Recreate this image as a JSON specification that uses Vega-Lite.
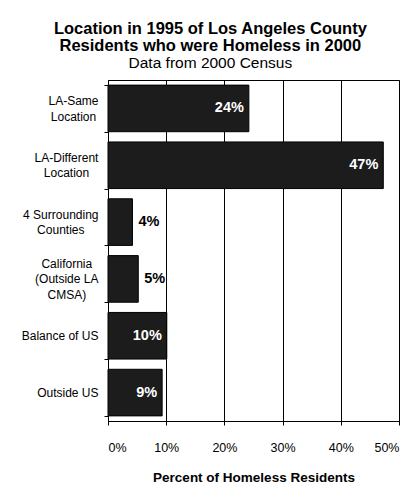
{
  "$schema": "https://vega.github.io/schema/vega-lite/v6.json",
  "width": 291,
  "height": 341,
  "padding": {"left": 21, "top": 21, "right": 5, "bottom": 2},
  "autosize": {"type": "pad"},
  "background": "white",
  "title": {
    "text": ["Location in 1995 of Los Angeles County", "Residents who were Homeless in 2000"],
    "subtitle": "Data from 2000 Census",
    "font": "Liberation Sans",
    "fontSize": 16.5,
    "fontWeight": "bold",
    "lineHeight": 17,
    "subtitleFont": "Liberation Sans",
    "subtitleFontSize": 15.5,
    "subtitleColor": "black",
    "subtitlePadding": 1,
    "color": "black",
    "anchor": "middle",
    "frame": "bounds",
    "offset": 3
  },
  "config": {
    "view": {"stroke": "black", "strokeWidth": 1},
    "font": "Liberation Sans"
  },
  "data": {
    "values": [
      {"location": "LA-Same|Location", "pct": 24.2, "label": "24%", "inside": true},
      {"location": "LA-Different|Location", "pct": 47.3, "label": "47%", "inside": true},
      {"location": "4 Surrounding|Counties", "pct": 4.2, "label": "4%", "inside": false},
      {"location": "California|(Outside LA|CMSA)", "pct": 5.2, "label": "5%", "inside": false},
      {"location": "Balance of US", "pct": 10.1, "label": "10%", "inside": true},
      {"location": "Outside US", "pct": 9.3, "label": "9%", "inside": true}
    ]
  },
  "encoding": {
    "y": {
      "field": "location",
      "type": "nominal",
      "sort": null,
      "scale": {"paddingInner": 0.18, "paddingOuter": 0.09},
      "axis": {
        "title": null,
        "labelExpr": "split(datum.label, '|')",
        "labelFontSize": 12,
        "labelColor": "black",
        "labelAlign": "center",
        "labelPadding": {"expr": "datum.value == 'LA-Same|Location' ? 31 : datum.value == 'LA-Different|Location' ? 38 : datum.value == '4 Surrounding|Counties' ? 43.7 : datum.value == 'California|(Outside LA|CMSA)' ? 37.7 : datum.value == 'Balance of US' ? 44.4 : 36.7"},
        "labelOffset": {"expr": "-(length(split(datum.value, '|')) - 1) * 7.6"},
        "labelLineHeight": 15.2,
        "tickBand": "extent",
        "tickColor": "black",
        "tickSize": 4,
        "domainColor": "black",
        "labelLimit": 200
      }
    }
  },
  "layer": [
    {
      "mark": {"type": "bar", "color": "#1c1c1c", "stroke": "black", "strokeWidth": 1},
      "encoding": {
        "x": {
          "field": "pct",
          "type": "quantitative",
          "scale": {"domain": [0, 50], "nice": false},
          "axis": {
            "title": "Percent of Homeless Residents",
            "titleFontSize": 13.5,
            "titleFontWeight": "bold",
            "titleColor": "black",
            "titlePadding": 17,
            "values": [0, 10, 20, 30, 40, 50],
            "labelExpr": "datum.value + '%'",
            "labelFontSize": 12.5,
            "labelColor": "black",
            "labelPadding": 16,
            "tickColor": "black",
            "tickSize": 4,
            "domainColor": "black",
            "gridColor": "black",
            "gridOpacity": 1,
            "grid": true
          }
        }
      }
    },
    {
      "transform": [{"filter": "datum.inside"}],
      "mark": {"type": "text", "align": "right", "dx": -5, "fontSize": 14.5, "fontWeight": "bold", "color": "white"},
      "encoding": {
        "x": {"field": "pct", "type": "quantitative"},
        "text": {"field": "label"}
      }
    },
    {
      "transform": [{"filter": "!datum.inside"}],
      "mark": {"type": "text", "align": "left", "dx": 6, "fontSize": 14.5, "fontWeight": "bold", "color": "black"},
      "encoding": {
        "x": {"field": "pct", "type": "quantitative"},
        "text": {"field": "label"}
      }
    }
  ]
}
